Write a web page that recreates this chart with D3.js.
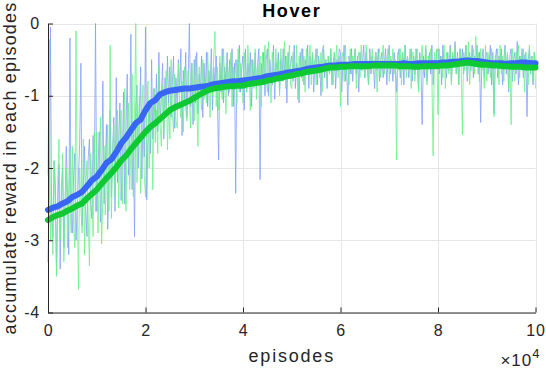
<!DOCTYPE html>
<html lang="en">
<head>
  <meta charset="UTF-8">
  <title>Hover</title>
  <script src="https://d3js.org/d3.v7.min.js"></script>
  <style>
    body {
      margin: 0;
      background: #fff;
      font-family: "Liberation Sans", Arial, sans-serif;
    }
    .tick text {
      font-size: 16px;
      letter-spacing: 0.8px;
      fill: #262626;
    }
  </style>
</head>
<body>
<div id="chart"></div>

<script>
  // x in units of 10^4 episodes
  const rawStep = 0.025;
  const smoothStep = 0.1;

  // raw rewards, one value every 0.025 (x10^4 episodes)
  const blueRaw = [
    -3.30, -2.40, -0.05, -2.70, -2.95, -1.90, -2.20, -3.45, -2.60, -1.95,
    -3.40, -2.30, -2.00, -3.10, -2.45, -1.70, -2.35, -3.20, -0.20, -2.80,
    -2.90, -2.10, -1.80, -3.00, -2.55, -2.10, -1.65, -0.55, -2.80, -2.30,
    -1.70, -2.60, -2.95, -1.85, -1.60, -2.50, -2.70, -1.55, -2.10,  0.00,
    -2.60, -2.05, -1.50, -2.75, -2.30, -0.80, -2.50, -1.95, -1.40, -2.85,
    -2.20, -1.20, -2.40, -1.75, -1.30, -2.60, -0.75, -2.20, -1.60, -1.10,
    -2.45, -1.90, -0.95, -2.50, -1.45, -0.70, -2.10, -1.70, -0.15, -2.30,
    -1.50, -2.95, -1.15, -0.85, -2.00, -1.40, -0.60, -2.15, -1.25, -1.85,
    -0.05, -2.44, -1.60, -1.10, -1.80, -0.50, -1.60, -0.90, -1.35, -0.70,
    -1.50, -0.40, -1.35, -1.05, -0.55, -1.60, -0.75, -1.25, -0.45, -1.10,
    -0.60, -1.30, -0.85, -0.45, -1.45, -0.75, -1.20, -0.50, -0.95, -0.35,
    -1.55, -0.65, -1.05, -0.40, -1.30, -0.80,  0.00, -1.15, -0.55, -1.40,
    -0.50, -1.10, -0.40, -1.25, -0.70, -0.95, -0.45, -1.30, -0.55, -1.00,
    -0.40, -1.15, -0.65, -0.90, -0.35, -1.20, -0.60, -0.85, -0.45, -1.05,
    -1.89, -0.55, -0.95, -0.35, -1.10, -0.60, -0.80, -0.40, -1.00, -0.50,
    -0.90, -0.35, -1.15, -0.55, -2.35, -0.50, -0.80, -0.30, -0.95, -0.60,
    -0.45, -1.20, -0.35, -0.95, -0.55, -0.75, -0.40, -1.15, -0.50, -0.85,
    -0.40, -0.90, -0.55, -0.35, -2.16, -0.55, -0.85, -0.40, -1.00, -0.50,
    -0.35, -1.00, -0.50, -0.75, -0.85, -0.30, -1.05, -0.55, -0.65, -0.40,
    -0.95, -0.50, -0.80, -0.35, -0.70, -0.45, -1.10, -0.40, -0.75, -0.55,
    -0.45, -0.80, -0.30, -0.90, -0.55, -0.65, -1.10, -0.40, -0.75, -0.35,
    -0.85, -0.50, -0.65, -0.30, -0.90, -0.45, -0.70, -0.40, -0.95, -0.55,
    -0.35, -0.85, -0.45, -0.60, -1.00, -0.40, -0.30, -0.75, -0.50, -0.90,
    -0.45, -0.70, -0.35, -0.85, -0.55, -0.40, -0.90, -0.50, -0.65, -0.35,
    -0.40, -0.95, -0.55, -0.30, -0.80, -0.60, -1.13, -0.45, -0.70, -0.35,
    -0.80, -0.50, -0.35, -0.70, -0.45, -0.95, -0.40, -0.65, -0.55, -0.30,
    -0.75, -0.40, -0.60, -0.85, -0.35, -0.70, -0.45, -0.55, -0.90, -0.40,
    -0.65, -0.35, -0.80, -0.50, -0.40, -0.75, -0.55, -0.35, -0.85, -0.45,
    -0.30, -0.70, -0.50, -0.80, -0.40, -0.60, -0.95, -0.45, -0.35, -0.75,
    -0.55, -0.40, -0.85, -0.30, -0.65, -0.45, -0.75, -0.50, -0.35, -0.80,
    -0.45, -0.70, -0.35, -0.55, -0.90, -0.40, -0.60, -1.40, -0.45, -0.75,
    -0.35, -0.80, -0.55, -0.40, -0.70, -0.30, -0.85, -0.50, -0.60, -0.40,
    -0.35, -0.70, -0.45, -0.85, -0.30, -0.60, -0.50, -0.75, -0.40, -0.65,
    -0.30, -0.80, -0.45, -0.55, -0.25, -0.70, -0.40, -0.85, -0.35, -0.60,
    -0.35, -0.70, -0.45, -0.30, -0.80, -0.50, -0.40, -0.65, -0.30, -0.75,
    -0.45, -0.55, -0.30, -0.70, -0.40, -1.37, -0.50, -0.35, -0.75, -0.45,
    -0.40, -0.70, -0.55, -0.30, -0.85, -0.40, -1.25, -0.50, -0.35, -0.75,
    -0.45, -0.60, -0.35, -0.85, -0.50, -0.30, -0.70, -0.40, -0.95, -0.45,
    -0.35, -0.80, -0.50, -0.40, -0.70, -0.25, -0.85, -0.45, -0.60, -0.35,
    -0.75, -0.45, -0.40, -1.29, -0.50, -0.35, -0.70, -0.45, -0.85, -0.40,
    -0.55
  ];

  const greenRaw = [
    -2.10, -0.22, -3.00, -2.40, -3.20, -1.90, -2.60, -3.50, -2.20, -1.60,
    -3.00, -2.50, -1.80, -3.30, -2.60, -2.00, -3.10, -2.40, -1.75, -2.90,
    -1.70, -2.80, -3.10, -0.10, -2.40, -3.68, -2.00, -2.55, -2.90, -1.60,
    -3.20, -2.30, -1.90, -2.70, -3.35, -1.80, -2.20, -2.95, -1.50, -2.60,
    -1.50, -2.90, -2.10, -1.30, -3.05, -2.40, -1.70, -2.65, -2.00, -1.40,
    -2.60, -0.30, -2.70, -1.85, -1.40, -2.40, -1.90, -1.20, -2.55, -1.70,
    -1.20, -2.50, -1.60, -0.90, -2.60, -1.45, -1.10, -2.30, -1.75, -0.70,
    -2.40, -1.30,  0.00, -2.20, -1.50, -1.00, -2.35, -1.20, -0.85, -2.10,
    -2.40, -1.35, -0.80, -2.00, -1.50, -1.10, -2.30, -0.90, -1.65, -1.20,
    -1.80, -0.60, -1.40, -1.70, -0.85, -1.55, -1.05, -0.65, -1.75, -1.10,
    -1.60, -0.50, -1.25, -1.50, -0.70, -1.35, -1.45, -0.55, -1.10, -1.30,
    -0.80, -1.50, -0.60, -1.20, -1.35, -0.65, -1.05, -1.45, -0.55, -1.00,
    -1.35, -0.45, -1.10, -1.70, -0.60, -0.90, -1.20, -0.50, -1.05, -0.75,
    -1.10, -0.40, -0.85, -1.30, -0.55, -1.00, -0.45, -0.11, -1.15, -0.60,
    -1.20, -0.45, -0.90, -1.05, -0.35, -0.80, -1.25, -0.55, -0.70, -0.95,
    -0.40, -1.15, -0.60, -0.85, -0.50, -1.10, -0.35, -0.95, -0.55, -0.80,
    -1.10, -0.40, -0.80, -0.95, -0.30, -0.70, -1.20, -0.50, -0.65, -0.90,
    -0.35, -1.05, -0.55, -0.75, -0.45, -1.15, -0.40, -0.85, -0.30, -0.70,
    -0.95, -0.25, -0.70, -1.10, -0.40, -0.60, -0.85, -0.35, -0.75, -0.50,
    -1.00, -0.35, -0.65, -0.80, -0.25, -0.90, -0.45, -0.70, -0.30, -0.85,
    -0.90, -0.40, -0.60, -0.75, -0.30, -1.05, -0.45, -0.65, -0.35, -0.80,
    -0.45, -0.95, -0.35, -0.70, -0.55, -0.30, -0.85, -0.40, -0.65, -0.50,
    -0.85, -0.35, -0.60, -0.75, -0.40, -0.95, -0.30, -0.65, -0.50, -0.80,
    -0.45, -0.70, -0.35, -0.60, -0.85, -0.40, -0.55, -0.30, -0.75, -0.45,
    -1.15, -0.50, -0.40, -0.80, -0.30, -0.65, -0.55, -0.85, -0.35, -0.70,
    -0.45, -0.60, -0.35, -0.90, -0.50, -0.40, -0.75, -0.30, -0.65, -0.55,
    -0.75, -0.30, -0.55, -0.85, -0.40, -0.65, -0.35, -0.70, -0.50, -0.40,
    -0.95, -0.45, -0.35, -0.75, -0.55, -0.30, -0.70, -0.45, -0.60, -0.35,
    -0.80, -0.45, -0.60, -0.35, -0.70, -0.50, -1.89, -0.40, -0.65, -0.35,
    -0.85, -0.40, -0.55, -0.30, -0.75, -0.45, -0.65, -0.35, -0.90, -0.40,
    -0.40, -0.80, -0.50, -0.35, -0.95, -0.45, -0.60, -0.30, -0.70, -0.55,
    -0.30, -0.85, -0.45, -0.60, -0.35, -0.75, -1.83, -0.40, -0.55, -0.35,
    -1.26, -0.35, -0.60, -0.45, -0.75, -0.30, -0.90, -0.40, -0.55, -0.70,
    -0.35, -0.85, -0.40, -0.60, -0.30, -0.70, -0.45, -0.85, -0.35, -0.55,
    -1.54, -0.40, -0.65, -0.30, -0.75, -0.25, -0.85, -0.45, -0.55, -0.35,
    -0.70, -0.18, -0.60, -0.40, -0.80, -0.35, -0.65, -0.50, -0.90, -0.30,
    -0.80, -0.40, -0.55, -0.75, -0.35, -0.65, -1.29, -0.45, -0.60, -0.35,
    -0.85, -0.30, -0.70, -0.45, -0.80, -0.35, -0.60, -0.40, -0.90, -0.50,
    -1.40, -0.35, -0.60, -0.80, -0.40, -0.55, -0.30, -0.75, -0.45, -0.65,
    -0.35, -0.95, -0.40, -0.60, -0.85, -0.30, -0.70, -0.45, -0.80, -0.40,
    -0.90
  ];

  // smoothed curves, one value every 0.1 (x10^4 episodes)
  const blueSmooth = [
    -2.58, -2.55, -2.53, -2.49, -2.46, -2.40, -2.37, -2.33, -2.25, -2.17,
    -2.12, -2.03, -1.93, -1.88, -1.78, -1.66, -1.58, -1.48, -1.38, -1.33,
    -1.20, -1.10, -1.06, -0.98, -0.95, -0.93, -0.92, -0.91, -0.90, -0.90,
    -0.89, -0.88, -0.87, -0.86, -0.84, -0.83, -0.82, -0.81, -0.80, -0.80,
    -0.79, -0.78, -0.77, -0.76, -0.75, -0.73, -0.72, -0.71, -0.70, -0.68,
    -0.67, -0.66, -0.65, -0.63, -0.62, -0.61, -0.60, -0.59, -0.58, -0.58,
    -0.57, -0.57, -0.57, -0.56, -0.56, -0.56, -0.56, -0.56, -0.56, -0.56,
    -0.56, -0.56, -0.56, -0.55, -0.56, -0.56, -0.55, -0.55, -0.55, -0.55,
    -0.55, -0.54, -0.54, -0.53, -0.53, -0.52, -0.51, -0.52, -0.52, -0.53,
    -0.54, -0.55, -0.55, -0.55, -0.56, -0.55, -0.55, -0.54, -0.54, -0.55,
    -0.55
  ];

  const greenSmooth = [
    -2.72, -2.68, -2.65, -2.63, -2.59, -2.56, -2.52, -2.49, -2.42, -2.36,
    -2.30, -2.22, -2.14, -2.07, -1.99, -1.90, -1.83, -1.74, -1.66, -1.58,
    -1.50, -1.43, -1.38, -1.32, -1.26, -1.20, -1.16, -1.13, -1.10, -1.07,
    -1.03, -0.99, -0.95, -0.92, -0.90, -0.89, -0.88, -0.87, -0.87, -0.86,
    -0.86, -0.84, -0.83, -0.82, -0.81, -0.79, -0.78, -0.76, -0.75, -0.73,
    -0.72, -0.70, -0.69, -0.67, -0.66, -0.65, -0.64, -0.62, -0.61, -0.61,
    -0.60, -0.60, -0.59, -0.59, -0.59, -0.59, -0.59, -0.58, -0.58, -0.58,
    -0.58, -0.58, -0.59, -0.59, -0.59, -0.60, -0.60, -0.59, -0.59, -0.59,
    -0.59, -0.58, -0.58, -0.57, -0.56, -0.55, -0.54, -0.55, -0.56, -0.57,
    -0.57, -0.58, -0.58, -0.59, -0.59, -0.60, -0.60, -0.60, -0.61, -0.61,
    -0.61
  ];

  const xTicks = [0, 2, 4, 6, 8, 10];
  const yTicks = [-4, -3, -2, -1, 0];

  const width = 546;
  const height = 370;
  const margin = { top: 23.5, right: 10.5, bottom: 57.5, left: 48 };

  const svg = d3.select("#chart").append("svg")
    .attr("width", width)
    .attr("height", height);

  const x = d3.scaleLinear()
    .domain([0, 10])
    .range([margin.left, width - margin.right]);

  const y = d3.scaleLinear()
    .domain([-4, 0])
    .range([height - margin.bottom, margin.top]);

  // grid
  const grid = svg.append("g").attr("stroke", "#e6e6e6").attr("stroke-width", 1);
  grid.selectAll(".gx")
    .data(xTicks)
    .join("line")
      .attr("x1", d => Math.round(x(d)) + 0.5)
      .attr("x2", d => Math.round(x(d)) + 0.5)
      .attr("y1", y(-4))
      .attr("y2", y(0));
  grid.selectAll(".gy")
    .data(yTicks)
    .join("line")
      .attr("x1", x(0))
      .attr("x2", x(10))
      .attr("y1", d => Math.round(y(d)) + 0.5)
      .attr("y2", d => Math.round(y(d)) + 0.5);

  const plot = svg.append("g");

  const line = step => d3.line()
    .x((d, i) => x(i * step))
    .y(d => y(d));

  plot.append("path")
    .datum(blueRaw)
    .attr("d", line(rawStep))
    .attr("fill", "none")
    .attr("stroke", "#84a0fa")
    .attr("stroke-opacity", 0.8)
    .attr("stroke-width", 1);

  plot.append("path")
    .datum(greenRaw)
    .attr("d", line(rawStep))
    .attr("fill", "none")
    .attr("stroke", "#6cf08e")
    .attr("stroke-opacity", 0.8)
    .attr("stroke-width", 1);

  plot.append("path")
    .datum(blueSmooth)
    .attr("d", line(smoothStep))
    .attr("fill", "none")
    .attr("stroke", "#3866f6")
    .attr("stroke-width", 6)
    .attr("stroke-linejoin", "round")
    .attr("stroke-linecap", "round");

  plot.append("path")
    .datum(greenSmooth)
    .attr("d", line(smoothStep))
    .attr("fill", "none")
    .attr("stroke", "#0fc933")
    .attr("stroke-width", 6)
    .attr("stroke-linejoin", "round")
    .attr("stroke-linecap", "round");

  // axes, matlab style (ticks inside)
  const xAxis = svg.append("g")
    .attr("transform", `translate(0,${y(-4)})`)
    .call(d3.axisBottom(x).tickValues(xTicks).tickSizeInner(-5).tickSizeOuter(0).tickPadding(10));
  xAxis.selectAll("text").attr("dy", "0.85em");

  svg.append("g")
    .attr("transform", `translate(${x(0)},0)`)
    .call(d3.axisLeft(y).tickValues(yTicks).tickSizeInner(-5).tickSizeOuter(0).tickPadding(8)
      .tickFormat(d => String(d)));

  svg.selectAll(".domain").attr("stroke", "#262626");
  svg.selectAll(".tick line").attr("stroke", "#262626");

  // labels
  svg.append("text")
    .attr("x", (x(0) + x(10)) / 2)
    .attr("y", 17)
    .attr("text-anchor", "middle")
    .attr("font-size", 18)
    .attr("font-weight", "bold")
    .attr("letter-spacing", 1.6)
    .attr("fill", "#000")
    .text("Hover");

  svg.append("text")
    .attr("x", (x(0) + x(10)) / 2)
    .attr("y", 362)
    .attr("text-anchor", "middle")
    .attr("font-size", 18)
    .attr("letter-spacing", 1.8)
    .attr("fill", "#262626")
    .text("episodes");

  svg.append("text")
    .attr("transform", `translate(16,${(y(0) + y(-4)) / 2}) rotate(-90)`)
    .attr("text-anchor", "middle")
    .attr("font-size", 18)
    .attr("letter-spacing", 1.2)
    .attr("fill", "#262626")
    .text("accumulate reward in each episodes");

  const exp = svg.append("text")
    .attr("x", x(10) + 5)
    .attr("y", 366)
    .attr("text-anchor", "end")
    .attr("font-size", 17)
    .attr("letter-spacing", 1)
    .attr("fill", "#262626");
  exp.append("tspan").text("\u00d710");
  exp.append("tspan").attr("dy", -8).attr("font-size", 13).text("4");
</script>

</body>
</html>
